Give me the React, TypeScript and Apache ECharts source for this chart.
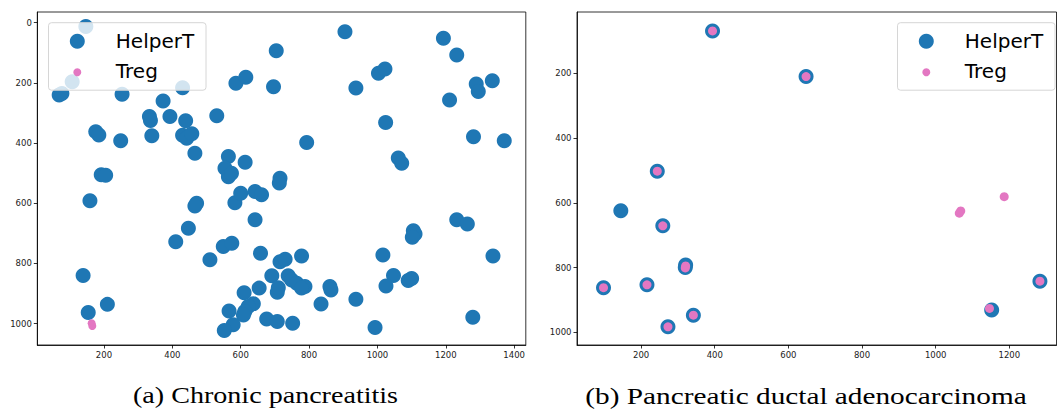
import React, { useEffect, useRef } from "react";
import * as echarts from "echarts";

// ---------- data ----------
const cpHelperT: [number, number][] = [
  [147, 13], [107, 196], [69, 240], [77, 235], [253, 238], [430, 216], [373, 260],
  [333, 312], [336, 325], [393, 312], [439, 326], [530, 309], [176, 362], [185, 373],
  [249, 392], [340, 376], [430, 374], [442, 384], [457, 369], [466, 434], [586, 201],
  [615, 181], [704, 93], [905, 30], [696, 213], [937, 217], [1003, 168], [1022, 154],
  [1193, 52], [1232, 107], [1289, 204], [1295, 229], [1336, 193], [1211, 257], [793, 398],
  [1024, 332], [1281, 379], [1371, 392], [1061, 450], [1071, 467], [564, 445], [554, 484],
  [564, 512], [573, 500], [613, 464], [715, 517], [713, 533],
  [192, 505], [205, 507], [159, 592], [471, 600], [466, 609], [583, 598], [600, 567],
  [642, 561], [661, 572], [642, 655], [447, 683], [410, 728], [549, 744], [574, 733],
  [510, 788], [658, 766], [715, 794], [730, 786], [778, 775], [1232, 655], [1263, 669],
  [1105, 691], [1110, 702], [1102, 713], [1338, 775], [1016, 772],
  [139, 840], [154, 963], [210, 936], [691, 841], [739, 841], [749, 855], [764, 866],
  [788, 877], [778, 882], [654, 882], [610, 897], [707, 896], [710, 881], [861, 877],
  [864, 888], [1047, 840], [1025, 875], [1090, 857], [1100, 850], [835, 935], [937, 919],
  [637, 934], [622, 943], [612, 960], [608, 971], [566, 958], [676, 985], [707, 993],
  [752, 999], [578, 1004], [552, 1023], [993, 1013], [1279, 979],
];
const cpTreg: [number, number][] = [[164, 999], [166, 1008]];

const pdacHelperT: [number, number][] = [
  [394, 69], [244, 502], [648, 210], [145, 624], [259, 671], [321, 792], [320, 800],
  [98, 862], [216, 853], [342, 947], [273, 983], [1283, 842], [1152, 931],
];
const pdacTreg: [number, number][] = [
  [394, 69], [244, 502], [648, 210], [259, 671], [321, 795], [320, 801], [98, 862],
  [216, 853], [342, 947], [273, 983], [1283, 842], [1146, 926], [1068, 625], [1064, 632],
  [1186, 581],
];

const cpXTicks = [200, 400, 600, 800, 1000, 1200, 1400];
const cpYTicks = [0, 200, 400, 600, 800, 1000];
const pdacXTicks = [200, 400, 600, 800, 1000, 1200];
const pdacYTicks = [200, 400, 600, 800, 1000];

const seriesNames = ["HelperT", "Treg"];
const captions = ["(a) Chronic pancreatitis", "(b) Pancreatic ductal adenocarcinoma"];

// ---------- styles ----------
const BLUE = "#1f77b4";
const PINK = "#e377c2";

if (typeof document !== "undefined") {
  document.body.style.margin = "0";
  document.body.style.padding = "0";
}

function axis(gridIndex: number, min: number, max: number, ticks: number[], inverse: boolean) {
  return {
    type: "value",
    gridIndex,
    min,
    max,
    inverse,
    axisLine: { show: true, onZero: false, lineStyle: { color: "#000", width: 0.8 } },
    axisTick: {
      show: true,
      inside: false,
      length: 3.5,
      customValues: ticks,
      lineStyle: { color: "#000", width: 0.8 },
    },
    axisLabel: {
      show: true,
      customValues: ticks,
      formatter: (v: number) => String(v),
      fontSize: 8.5,
      fontFamily: "DejaVu Sans",
      color: "#222",
      margin: 5.5,
    },
    splitLine: { show: false },
    minorTick: { show: false },
    minorSplitLine: { show: false },
  };
}

function scatter(name: string, data: [number, number][], idx: number, color: string, size: number) {
  return {
    type: "scatter",
    name,
    xAxisIndex: idx,
    yAxisIndex: idx,
    data,
    symbol: "circle",
    symbolSize: size,
    itemStyle: { color, opacity: 1 },
    emphasis: { disabled: true },
    silent: true,
  };
}

function legendGraphic(left: number, top: number) {
  const w = 157.5;
  const h = 67.5;
  const mx = left + 28.8;
  const tx = left + 67.3;
  return [
    {
      type: "rect",
      z: 100,
      shape: { x: left, y: top, width: w, height: h, r: 3 },
      style: { fill: "rgba(255,255,255,0.8)", stroke: "#d6d6d6", lineWidth: 1 },
    },
    { type: "circle", z: 101, shape: { cx: mx, cy: top + 18.5, r: 7.5 }, style: { fill: BLUE } },
    { type: "circle", z: 101, shape: { cx: mx, cy: top + 49.5, r: 4 }, style: { fill: PINK } },
    {
      type: "text",
      z: 101,
      x: tx,
      y: top + 17.8,
      style: {
        text: seriesNames[0],
        fill: "#000",
        font: "20px 'DejaVu Sans'",
        textAlign: "left",
        textVerticalAlign: "middle",
        align: "left",
        verticalAlign: "middle",
      },
    },
    {
      type: "text",
      z: 101,
      x: tx,
      y: top + 48,
      style: {
        text: seriesNames[1],
        fill: "#000",
        font: "20px 'DejaVu Sans'",
        textAlign: "left",
        textVerticalAlign: "middle",
        align: "left",
        verticalAlign: "middle",
      },
    },
  ];
}

function caption(text: string, cx: number, cy: number, sx: number) {
  return {
    type: "text",
    z: 100,
    x: cx,
    y: cy,
    scaleX: sx,
    style: {
      text,
      fill: "#000",
      font: "24px 'Liberation Serif'",
      textAlign: "center",
      textVerticalAlign: "middle",
      align: "center",
      verticalAlign: "middle",
    },
  };
}

export default function App() {
  const ref = useRef<HTMLDivElement>(null);
  useEffect(() => {
    if (!ref.current) return;
    const chart = echarts.init(ref.current, undefined, { renderer: "svg" });
    chart.setOption({
      animation: false,
      backgroundColor: "#fff",
      grid: [
        {
          left: 37.3, top: 12, width: 488.5, height: 333,
          show: true, borderColor: "#000", borderWidth: 0.8, backgroundColor: "transparent",
          containLabel: false, outerBoundsMode: "none",
        },
        {
          left: 577, top: 12, width: 479.5, height: 333,
          show: true, borderColor: "#000", borderWidth: 0.8, backgroundColor: "transparent",
          containLabel: false, outerBoundsMode: "none",
        },
      ],
      xAxis: [
        axis(0, 5, 1434, cpXTicks, false),
        axis(1, 26, 1328, pdacXTicks, false),
      ],
      yAxis: [
        axis(0, -35.5, 1071, cpYTicks, true),
        axis(1, 10.5, 1039, pdacYTicks, true),
      ],
      tooltip: { show: false },
      series: [
        scatter(seriesNames[0], cpHelperT, 0, BLUE, 15),
        scatter(seriesNames[1], cpTreg, 0, PINK, 8),
        scatter(seriesNames[0], pdacHelperT, 1, BLUE, 15),
        scatter(seriesNames[1], pdacTreg, 1, PINK, 9),
      ],
      graphic: [
        ...legendGraphic(48.5, 22.7),
        ...legendGraphic(897.5, 22.7),
        caption(captions[0], 265.5, 395.5, 1.17),
        caption(captions[1], 806, 395.5, 1.22),
      ],
    });
    return () => chart.dispose();
  }, []);
  return <div ref={ref} style={{ width: 1057, height: 410, background: "#fff" }} />;
}
